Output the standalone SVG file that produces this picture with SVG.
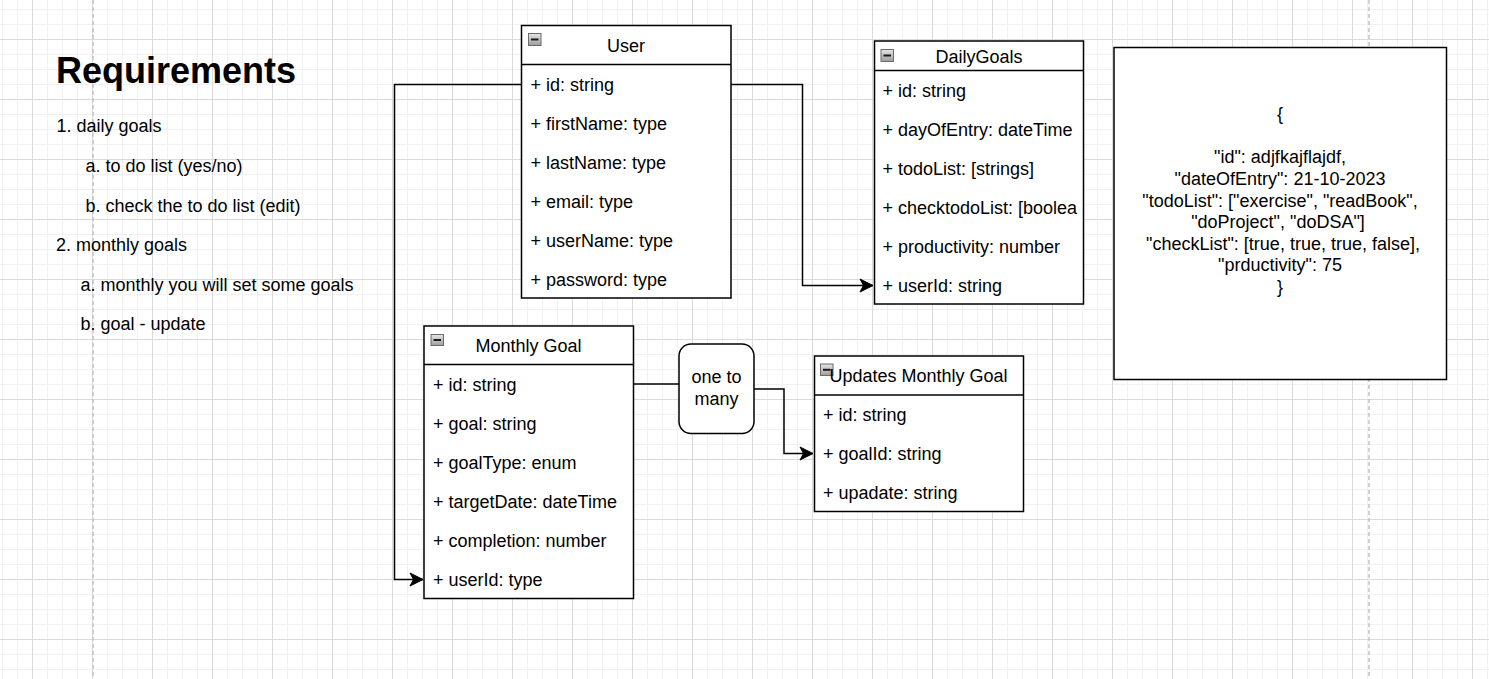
<svg xmlns="http://www.w3.org/2000/svg" width="1489" height="679" viewBox="0 0 1489 679">
  <style>
    text { font-family: "Liberation Sans", Arial, sans-serif; fill: #000; }
    .title { font-size: 36px; font-weight: bold; }
    .req { font-size: 18px; }
    .hdr { font-size: 18px; text-anchor: middle; }
    .row { font-size: 18px; }
    .json { font-size: 18px; text-anchor: middle; }
    .box { fill: #fff; stroke: #000; stroke-width: 1.5; }
    .sep { stroke: #000; stroke-width: 1.5; }
    .edge { fill: none; stroke: #000; stroke-width: 1.5; }
    .pagebreak { stroke: #c2c2c2; stroke-width: 1.5; stroke-dasharray: 4 3; }
    .tog { fill: url(#togFill); stroke: #6b6b6b; stroke-width: 1; }
    .togBar { stroke: #1a1a1a; stroke-width: 2; }
  </style>
  <defs>
    <pattern id="minor" x="32" y="39" width="15" height="15" patternUnits="userSpaceOnUse">
      <path d="M0.5 0 V15 M0 0.5 H15" stroke="#f1f1f1" stroke-width="1" fill="none"/>
    </pattern>
    <pattern id="major" x="32" y="39" width="60" height="60" patternUnits="userSpaceOnUse">
      <path d="M0.5 0 V60 M0 0.5 H60" stroke="#dadada" stroke-width="1" fill="none"/>
    </pattern>
    <linearGradient id="togFill" x1="0" y1="0" x2="0" y2="1">
      <stop offset="0" stop-color="#e6e6e6"/>
      <stop offset="1" stop-color="#9c9c9c"/>
    </linearGradient>
    <marker id="arrow" markerUnits="userSpaceOnUse" markerWidth="16" markerHeight="16" viewBox="-14 -8 16 16" refX="0" refY="0" orient="auto">
      <path d="M0 0 L-13 -6.5 L-9.5 0 L-13 6.5 Z" fill="#000" stroke="#000" stroke-width="1"/>
    </marker>
  </defs>

  <!-- canvas background and grid -->
  <rect x="0" y="0" width="1489" height="679" fill="#fff"/>
  <rect x="0" y="0" width="1489" height="679" fill="url(#minor)"/>
  <rect x="0" y="0" width="1489" height="679" fill="url(#major)"/>
  <line class="pagebreak" x1="93" y1="0" x2="93" y2="679"/>
  <line class="pagebreak" x1="1369" y1="0" x2="1369" y2="679"/>

  <!-- requirements notes -->
  <g id="requirements">
    <text class="title" x="56" y="83">Requirements</text>
    <text class="req" x="56.5" y="132">1. daily goals</text>
    <text class="req" x="85.5" y="172">a. to do list (yes/no)</text>
    <text class="req" x="85.5" y="212">b. check the to do list (edit)</text>
    <text class="req" x="56" y="251">2. monthly goals</text>
    <text class="req" x="80.5" y="291">a. monthly you will set some goals</text>
    <text class="req" x="80.5" y="330">b. goal - update</text>
  </g>

  <!-- connectors -->
  <g id="connectors">
    <path class="edge" d="M521 84.5 H394.5 V579.5 H423" marker-end="url(#arrow)"/>
    <path class="edge" d="M731 84.5 H802.5 V285.5 H873" marker-end="url(#arrow)"/>
    <path class="edge" d="M633 384 H679"/>
    <path class="edge" d="M754 389 H784 V453.5 H813" marker-end="url(#arrow)"/>
  </g>

  <!-- User entity -->
  <g id="user">
    <rect class="box" x="521.5" y="25.5" width="209.5" height="272.5"/>
    <line class="sep" x1="521.5" y1="64.5" x2="731" y2="64.5"/>
    <rect class="tog" x="528.5" y="33.5" width="12.5" height="12"/>
    <line class="togBar" x1="531" y1="39.5" x2="538.5" y2="39.5"/>
    <text class="hdr" x="626" y="51.7">User</text>
    <text class="row" x="530.5" y="90.8">+ id: string</text>
    <text class="row" x="530.5" y="129.8">+ firstName: type</text>
    <text class="row" x="530.5" y="168.8">+ lastName: type</text>
    <text class="row" x="530.5" y="207.8">+ email: type</text>
    <text class="row" x="530.5" y="246.8">+ userName: type</text>
    <text class="row" x="530.5" y="285.8">+ password: type</text>
  </g>

  <!-- DailyGoals entity -->
  <g id="daily-goals">
    <rect class="box" x="874.5" y="41" width="209" height="263"/>
    <line class="sep" x1="874.5" y1="70.5" x2="1083.5" y2="70.5"/>
    <rect class="tog" x="881" y="49.5" width="12.5" height="12"/>
    <line class="togBar" x1="883.5" y1="55.5" x2="891" y2="55.5"/>
    <text class="hdr" x="979" y="62.5">DailyGoals</text>
    <svg x="874.5" y="70.5" width="209" height="233" overflow="hidden">
      <text class="row" x="8" y="26.8">+ id: string</text>
      <text class="row" x="8" y="65.8">+ dayOfEntry: dateTime</text>
      <text class="row" x="8" y="104.8">+ todoList: [strings]</text>
      <text class="row" x="8" y="143.8">+ checktodoList: [boolea</text>
      <text class="row" x="8" y="182.8">+ productivity: number</text>
      <text class="row" x="8" y="221.8">+ userId: string</text>
    </svg>
  </g>

  <!-- sample JSON note -->
  <g id="json-sample">
    <rect class="box" x="1114" y="47.5" width="332.5" height="332"/>
    <text class="json" x="1280" y="120.1">{</text>
    <text class="json" x="1280" y="163.3">"id": adjfkajflajdf,</text>
    <text class="json" x="1280" y="184.9">"dateOfEntry": 21-10-2023</text>
    <text class="json" x="1280" y="206.5">"todoList": ["exercise", "readBook",</text>
    <text class="json" x="1278" y="228.1">"doProject", "doDSA"]</text>
    <text class="json" x="1283" y="249.7">"checkList": [true, true, true, false],</text>
    <text class="json" x="1280" y="271.3">"prductivity": 75</text>
    <text class="json" x="1280" y="292.9">}</text>
  </g>

  <!-- Monthly Goal entity -->
  <g id="monthly-goal">
    <rect class="box" x="424" y="326" width="209.5" height="272.5"/>
    <line class="sep" x1="424" y1="364.5" x2="633.5" y2="364.5"/>
    <rect class="tog" x="431" y="334.5" width="12.5" height="11"/>
    <line class="togBar" x1="433.5" y1="340" x2="441" y2="340"/>
    <text class="hdr" x="528.5" y="351.7">Monthly Goal</text>
    <text class="row" x="433" y="391.2">+ id: string</text>
    <text class="row" x="433" y="430.2">+ goal: string</text>
    <text class="row" x="433" y="469.2">+ goalType: enum</text>
    <text class="row" x="433" y="508.2">+ targetDate: dateTime</text>
    <text class="row" x="433" y="547.2">+ completion: number</text>
    <text class="row" x="433" y="586.2">+ userId: type</text>
  </g>

  <!-- relationship label -->
  <g id="one-to-many">
    <rect class="box" x="679" y="344" width="75" height="89.5" rx="12" ry="12"/>
    <text class="hdr" x="716.5" y="382.7">one to</text>
    <text class="hdr" x="716.5" y="405">many</text>
  </g>

  <!-- Updates Monthly Goal entity -->
  <g id="updates-monthly-goal">
    <rect class="box" x="814.5" y="356" width="209" height="155.5"/>
    <line class="sep" x1="814.5" y1="395" x2="1023.5" y2="395"/>
    <rect class="tog" x="820.5" y="364" width="12.5" height="11.5"/>
    <line class="togBar" x1="823" y1="369.8" x2="830.5" y2="369.8"/>
    <text class="hdr" x="918.5" y="382.2">Updates Monthly Goal</text>
    <text class="row" x="823" y="421.2">+ id: string</text>
    <text class="row" x="823" y="460.2">+ goalId: string</text>
    <text class="row" x="823" y="499.2">+ upadate: string</text>
  </g>
</svg>
